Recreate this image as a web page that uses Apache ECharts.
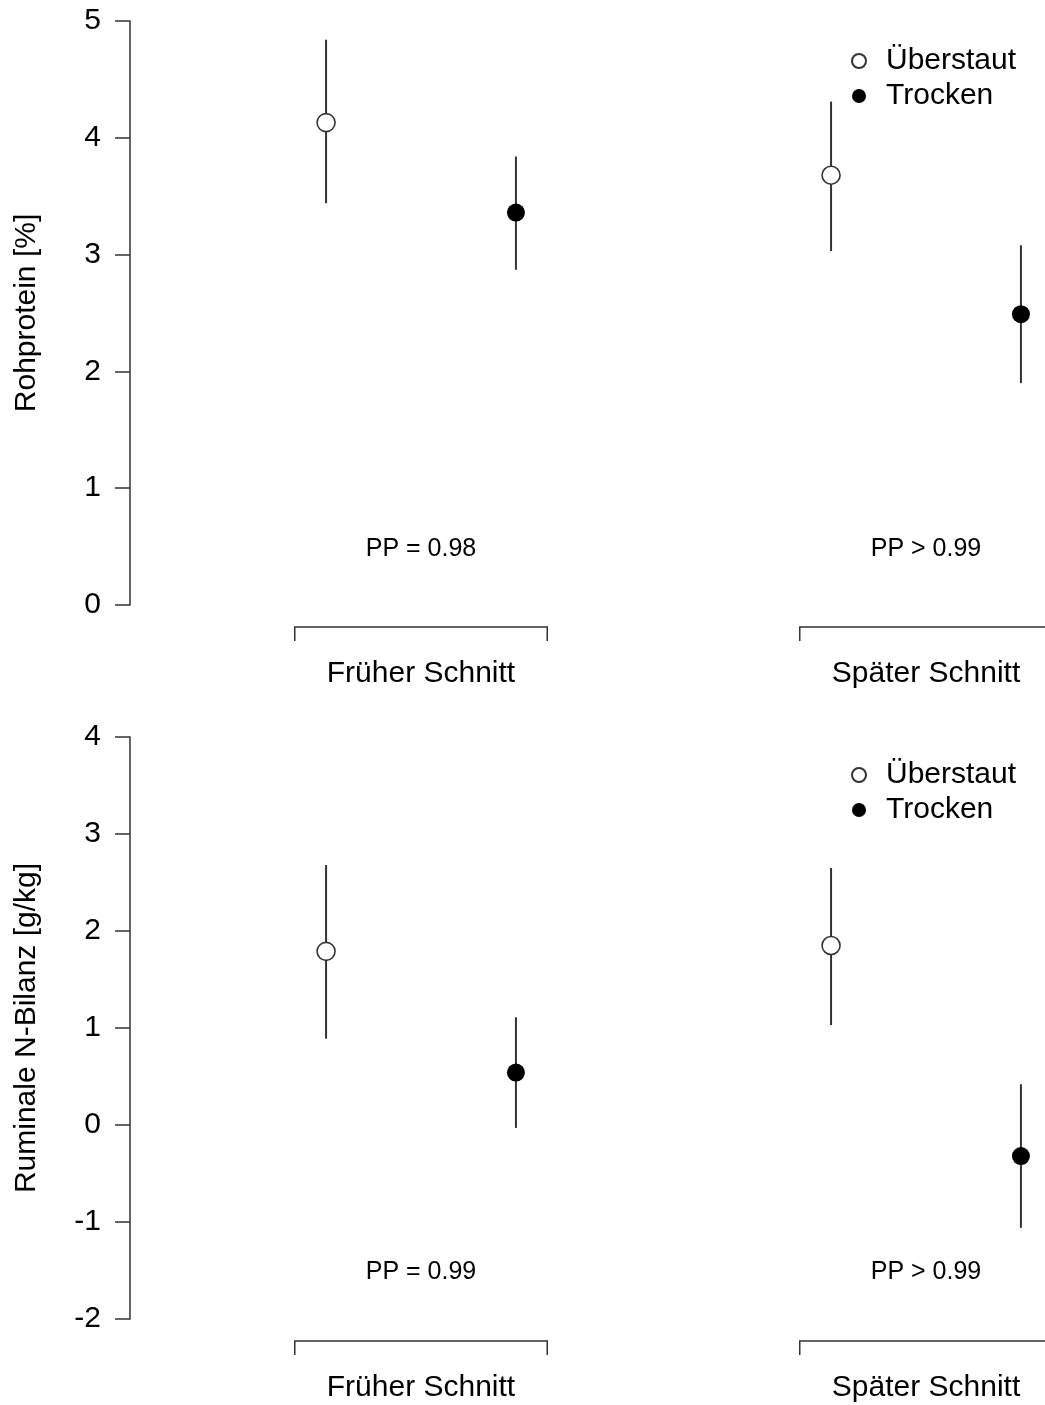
<!DOCTYPE html>
<html>
<head>
<meta charset="utf-8">
<script src="https://cdn.jsdelivr.net/npm/echarts@6/dist/echarts.min.js"></script>
<style>html,body{margin:0;padding:0;background:#fff}#c{width:1045px;height:1405px}</style>
</head>
<body>
<div id="c"></div>
<script>
// ---- data ----
var groups = ['Früher Schnitt', 'Später Schnitt'];
var seriesNames = ['Überstaut', 'Trocken'];
// Rohprotein [%]
var rpUeberMean = [4.13, 3.68];
var rpUeberLo   = [3.44, 3.03];
var rpUeberHi   = [4.84, 4.31];
var rpTrockMean = [3.36, 2.49];
var rpTrockLo   = [2.87, 1.90];
var rpTrockHi   = [3.84, 3.08];
var rpPP = ['PP = 0.98', 'PP > 0.99'];
// Ruminale N-Bilanz [g/kg]
var nbUeberMean = [1.79, 1.85];
var nbUeberLo   = [0.89, 1.03];
var nbUeberHi   = [2.68, 2.65];
var nbTrockMean = [0.54, -0.32];
var nbTrockLo   = [-0.03, -1.06];
var nbTrockHi   = [1.11, 0.42];
var nbPP = ['PP = 0.99', 'PP > 0.99'];
var rpTicks = {min: 0, max: 5, interval: 1};
var nbTicks = {min: -2, max: 4, interval: 1};

// ---- style / layout ----
var FONT = '"Liberation Sans", Arial, sans-serif';
var INK = '#333';
var OFF = 0.188;      // offset of points from group centre
var HALF = 0.25;      // half width of group bracket
var XMIN = 1 - 291 / 505, XMAX = 2 + 119 / 505;

var chart = echarts.init(document.getElementById('c'), null, {renderer: 'canvas'});

function panel(idx, ticks, name, uM, uL, uH, tM, tL, tH, pp, ppY) {
  var g = idx;
  var uPts = groups.map(function (_, i) { return [i + 1 - OFF, uM[i]]; });
  var tPts = groups.map(function (_, i) { return [i + 1 + OFF, tM[i]]; });
  var bars = [];
  groups.forEach(function (_, i) {
    bars.push([i + 1 - OFF, uL[i], uH[i]]);
    bars.push([i + 1 + OFF, tL[i], tH[i]]);
  });
  var yAxis = {
    type: 'value', gridIndex: g, min: ticks.min, max: ticks.max, interval: ticks.interval,
    name: name, nameLocation: 'middle', nameRotate: 90, nameGap: 88,
    nameTextStyle: {fontFamily: FONT, fontSize: 30, color: '#000'},
    axisLine: {show: true, lineStyle: {color: INK, width: 1.5}},
    axisTick: {show: true, inside: false, length: 15, lineStyle: {color: INK, width: 1.5}},
    axisLabel: {fontFamily: FONT, fontSize: 30, color: '#000', margin: 29},
    splitLine: {show: false}
  };
  var xAxis = {type: 'value', gridIndex: g, min: XMIN, max: XMAX, show: false};
  var series = [
    {
      type: 'custom', xAxisIndex: g, yAxisIndex: g, z: 1, clip: false, silent: true,
      data: bars,
      renderItem: function (params, api) {
        var a = api.coord([api.value(0), api.value(1)]);
        var b = api.coord([api.value(0), api.value(2)]);
        return {type: 'line', shape: {x1: a[0], y1: a[1], x2: b[0], y2: b[1]},
                style: {stroke: INK, lineWidth: 2}};
      }
    },
    {
      name: seriesNames[0], type: 'scatter', xAxisIndex: g, yAxisIndex: g, z: 3,
      symbol: 'circle', symbolSize: 18, data: uPts,
      itemStyle: {color: '#fff', borderColor: INK, borderWidth: 1.6, opacity: 1}
    },
    {
      name: seriesNames[1], type: 'scatter', xAxisIndex: g, yAxisIndex: g, z: 3,
      symbol: 'circle', symbolSize: 18, data: tPts,
      itemStyle: {color: '#000', opacity: 1}
    },
    {
      type: 'custom', xAxisIndex: g, yAxisIndex: g, z: 2, clip: false, silent: true,
      data: groups.map(function (gname, i) { return [i + 1, ticks.min, ppY]; }),
      renderItem: function (params, api) {
        var i = params.dataIndex;
        var c = api.coord([api.value(0), api.value(1)]);
        var l = api.coord([api.value(0) - HALF, api.value(1)]);
        var r = api.coord([api.value(0) + HALF, api.value(1)]);
        var p = api.coord([api.value(0), api.value(2)]);
        var y0 = c[1];
        return {type: 'group', children: [
          {type: 'polyline', shape: {points: [[l[0], y0 + 36], [l[0], y0 + 22], [r[0], y0 + 22], [r[0], y0 + 36]]},
           style: {stroke: INK, lineWidth: 1.5, fill: null}},
          {type: 'text', style: {text: groups[i], x: c[0], y: y0 + 69, align: 'center', verticalAlign: 'middle',
            font: '30px ' + FONT, fill: '#000'}},
          {type: 'text', style: {text: pp[i], x: p[0], y: p[1], align: 'center', verticalAlign: 'middle',
            font: '25px ' + FONT, fill: '#000'}}
        ]};
      }
    }
  ];
  return {xAxis: xAxis, yAxis: yAxis, series: series};
}

var p1 = panel(0, rpTicks, 'Rohprotein [%]', rpUeberMean, rpUeberLo, rpUeberHi, rpTrockMean, rpTrockLo, rpTrockHi, rpPP, 0.48);
var p2 = panel(1, nbTicks, 'Ruminale N-Bilanz [g/kg]', nbUeberMean, nbUeberLo, nbUeberHi, nbTrockMean, nbTrockLo, nbTrockHi, nbPP, -1.52);

function legend(top) {
  return {
    orient: 'vertical', left: 846, top: top, itemGap: 5, itemWidth: 14, itemHeight: 14,
    selectedMode: false,
    data: [{name: seriesNames[0], icon: 'circle'}, {name: seriesNames[1], icon: 'circle'}],
    textStyle: {fontFamily: FONT, fontSize: 30, color: '#000', lineHeight: 30, padding: [0, 0, 0, 15]}
  };
}

chart.setOption({
  backgroundColor: '#fff',
  animation: false,
  grid: [
    {left: 130, right: 0, top: 21, height: 584},
    {left: 130, right: 0, top: 737, height: 582}
  ],
  legend: [legend(41), legend(755)],
  xAxis: [p1.xAxis, p2.xAxis],
  yAxis: [p1.yAxis, p2.yAxis],
  series: p1.series.concat(p2.series)
});
</script>
</body>
</html>
